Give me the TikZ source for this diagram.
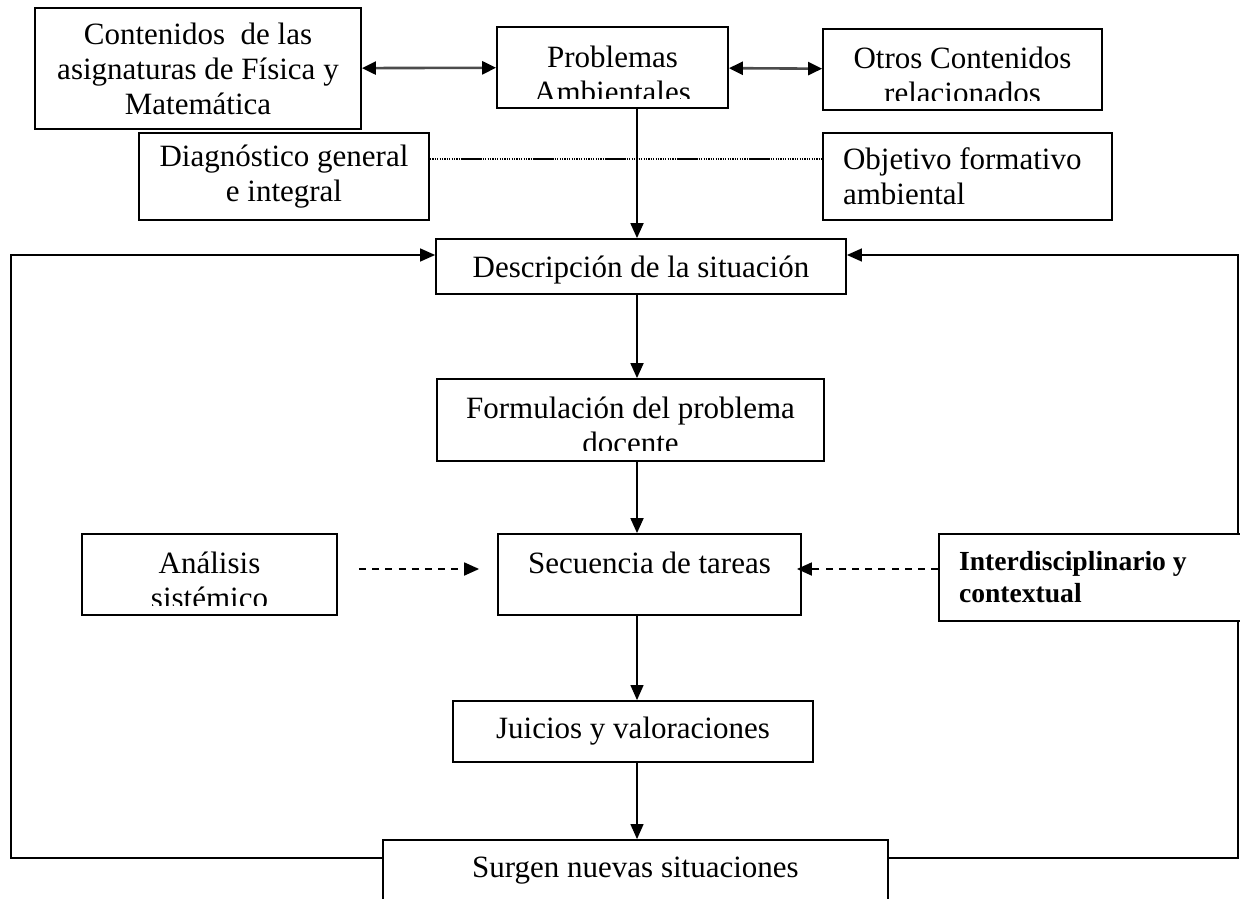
\documentclass[tikz,border=0pt]{standalone}
\usepackage{fontspec}
\setmainfont{Liberation Serif}
\usetikzlibrary{arrows.meta}

\begin{document}
\begin{tikzpicture}
      [x=0.5pt, y=-0.5pt,
      font=\fontsize{15.5}{17.5}\selectfont,
      box/.style={draw=black, fill=white, line width=0.9pt, align=center, inner sep=0pt},
      lbox/.style={box, align=flush left, inner xsep=10pt},
      txt/.style={align=center, inner sep=0pt},
      arr/.style={-{Triangle[length=7.5pt, width=6.5pt]}, line width=0.9pt},
      dbl/.style={{Triangle[length=7pt, width=6.5pt, color=black]}-{Triangle[length=7pt, width=6.5pt, color=black]},
        line width=1.3pt, draw=black!70},
      darr/.style={arr, dash pattern=on 3.5pt off 3.1pt},
      dotl/.style={line width=0.6pt, dash pattern=on 0.6pt off 0.6pt},
      dashl/.style={line width=0.9pt, dash pattern=on 10.5pt off 25.5pt, dash phase=20.5pt}]
      \useasboundingbox (0,0) rectangle (1240,898);
      \coordinate (ax) at (637,0);
      \coordinate (lft) at (11,500);
      \coordinate (rgt) at (1238,500);
      % top row
      \node (cont) at (198, 68.5) [box, minimum width=163pt, minimum height=60.5pt]
        {Contenidos~ de las\\asignaturas de Física y\\Matemática};
      \node (prob) at (612.5, 67.5) [box, minimum width=115.5pt, minimum height=40.5pt] {};
      \begin{scope}
        \clip ([yshift=5pt]prob.south west) rectangle (prob.north east);
        \node (prob-t) at (612.5, 74) [txt] {Problemas\\Ambientales};
      \end{scope}
      \node (otros) at (962.5, 69.5) [box, minimum width=139.5pt, minimum height=40.5pt] {};
      \begin{scope}
        \clip ([yshift=5pt]otros.south west) rectangle (otros.north east);
        \node (otros-t) at (962.5, 75) [txt] {Otros Contenidos\\relacionados};
      \end{scope}
      \node (diag) at (284, 176.5) [box, minimum width=145pt, minimum height=43.5pt]
        {Diagnóstico general\\e integral};
      \node (obj) at (967.5, 176.5) [lbox, text width=124.5pt, minimum height=43.5pt]
        {Objetivo formativo\\ambiental};
      % central column
      \node (desc) at (641, 266.5) [box, minimum width=205pt, minimum height=27.5pt, text depth=0pt]
        {Descripción de la situación};
      \node (form) at (630.5, 420) [box, minimum width=193.5pt, minimum height=41pt] {};
      \begin{scope}
        \clip ([yshift=5.5pt]form.south west) rectangle (form.north east);
        \node (form-t) at (630.5, 425) [txt] {Formulación del problema\\docente};
      \end{scope}
      \node (anal) at (209.5, 574.5) [box, minimum width=127.5pt, minimum height=40.5pt] {};
      \begin{scope}
        \clip ([yshift=5pt]anal.south west) rectangle (anal.north east);
        \node (anal-t) at (209.5, 580) [txt] {Análisis\\sistémico};
      \end{scope}
      \node (sec) at (649.5, 574.5) [box, minimum width=151.5pt, minimum height=40.5pt,
        text height=10.5pt, text depth=12pt] {Secuencia de tareas};
      \node (juic) at (633, 731.5) [box, minimum width=180pt, minimum height=30.5pt]
        {Juicios y valoraciones};
      \node (surg) at (635.5, 871) [box, minimum width=252.5pt, minimum height=31pt]
        {Surgen nuevas situaciones};
      % feedback loop
      \draw[arr, line width=0.7pt] ([yshift=-9.5pt]surg.north west) -| (lft) |- ([yshift=5.75pt]desc.west);
      \draw[arr, line width=0.7pt] ([yshift=-9.5pt]surg.north east) -| (rgt) |- ([yshift=5.75pt]desc.east);
      \node (inter) at (1092, 577.5) [lbox, text width=133pt, minimum height=43.5pt,
        font=\fontsize{13.8}{16}\selectfont\bfseries] {Interdisciplinario y\\contextual};
      % connectors
      \draw[dbl] (cont) -- (prob);
      \draw[dbl] (prob) -- (otros);
      \draw[dotl] ([yshift=-13.5pt]diag.north east) -- ([yshift=-13.5pt]obj.north west);
      \draw[dashl] ([yshift=-13.5pt]diag.north east) -- ([yshift=-13.5pt]obj.north west);
      \draw[arr] (prob.south -| ax) -- (desc.north -| ax);
      \draw[arr] (desc.south -| ax) -- (form.north -| ax);
      \draw[arr] (form.south -| ax) -- (sec.north -| ax);
      \draw[arr, line width=0.6pt] (sec.south -| ax) -- (juic.north -| ax);
      \draw[arr, line width=0.6pt] (juic.south -| ax) -- (surg.north -| ax);
      \draw[darr] ([xshift=10.5pt, yshift=2.75pt]anal.east) -- ([xshift=-9pt, yshift=2.75pt]sec.west);
      \draw[darr] ([yshift=4.25pt]inter.west) -- ([xshift=-2.5pt, yshift=2.75pt]sec.east);
    \end{tikzpicture}
\end{document}
